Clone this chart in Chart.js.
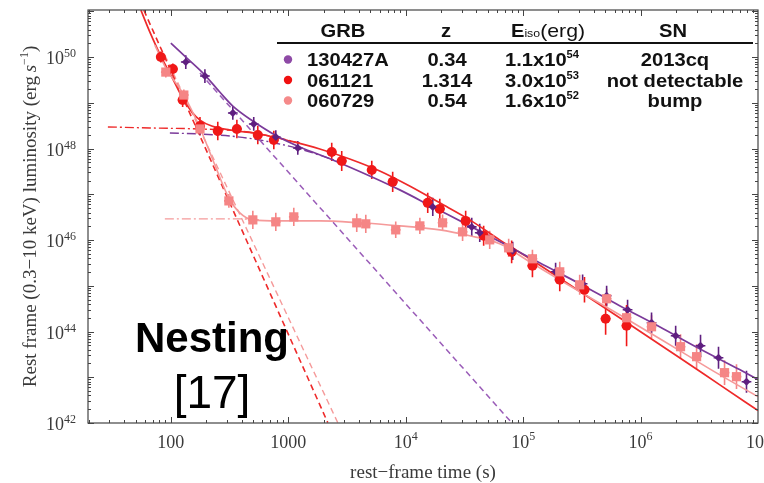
<!DOCTYPE html>
<html>
<head>
<meta charset="utf-8">
<title>GRB rest-frame X-ray light curves</title>
<script src="https://cdn.jsdelivr.net/npm/chart.js@4.4.1/dist/chart.umd.min.js"></script>
<style>
  html, body { margin: 0; padding: 0; background: #fff; overflow: hidden; }
  canvas { display: block; }
</style>
</head>
<body>
<canvas id="lc" width="800" height="483"></canvas>
<script>
// observed points, [rest-frame time (s), luminosity (erg/s)], error in dex
const pts130427A = [
  [134, 7.8e49], [195, 3.85e49], [337, 6.0e48], [508, 3.45e48], [783, 1.79e48],
  [1205, 1.03e48], [1.7e4, 5.3e46], [3.65e4, 1.94e46], [4.27e4, 1.44e46], [8.15e4, 5.8e45],
  [1.89e5, 2.02e45], [3.21e5, 1.11e45], [5.14e5, 6.05e44], [7.75e5, 2.99e44], [1.24e6, 1.56e44],
  [1.99e6, 8.1e43], [3.24e6, 4.9e43], [4.61e6, 2.68e43], [7.98e6, 8.0e42]
];
const err130427A = [0.15, 0.15, 0.15, 0.15, 0.15, 0.15, 0.2, 0.2, 0.2, 0.2,
  0.2, 0.2, 0.22, 0.22, 0.22, 0.22, 0.24, 0.24, 0.24];

const pts061121 = [
  [82.2, 1.0e50], [104, 5.47e49], [126, 1.15e49], [177, 3.11e48], [251, 2.42e48],
  [365, 2.68e48], [550, 1.98e48], [753, 1.54e48], [2344, 8.43e47], [2851, 5.36e47],
  [5140, 3.41e47], [7745, 1.87e47], [1.54e4, 6.5e46], [1.95e4, 4.8e46], [3.24e4, 2.62e46],
  [4.61e4, 1.24e46], [7.98e4, 5.5e45], [1.2e5, 2.73e45], [2.05e5, 1.35e45], [3.33e5, 8.2e44],
  [5.04e5, 1.9e44], [7.6e5, 1.34e44]
];
const err061121 = [0.12, 0.12, 0.15, 0.2, 0.2, 0.2, 0.2, 0.2, 0.2, 0.22,
  0.2, 0.22, 0.22, 0.22, 0.22, 0.22, 0.25, 0.25, 0.25, 0.28, 0.35, 0.45];

const pts060729 = [
  [90.6, 4.7e49], [129, 1.48e49], [177, 2.68e48], [312, 7.18e46], [499, 2.76e46],
  [783, 2.5e46], [1114, 3.21e46], [3828, 2.38e46], [4571, 2.26e46], [8222, 1.67e46],
  [1.32e4, 2.04e46], [2.06e4, 2.38e46], [3.05e4, 1.51e46], [5.19e4, 1.01e46], [7.53e4, 6.76e45],
  [1.2e5, 3.89e45], [2.05e5, 2.02e45], [3.03e5, 1.05e45], [5.14e5, 5.2e44], [7.6e5, 2.0e44],
  [1.24e6, 1.27e44], [2.19e6, 4.66e43], [3.0e6, 2.82e43], [5.19e6, 1.26e43], [6.56e6, 1.03e43]
];
const err060729 = [0.12, 0.12, 0.15, 0.15, 0.2, 0.2, 0.2, 0.2, 0.2, 0.18,
  0.18, 0.18, 0.2, 0.2, 0.2, 0.2, 0.22, 0.22, 0.22, 0.25, 0.25, 0.27, 0.27, 0.27, 0.27];

// fitted models
const fit061121 = [
  [55.6, 1.06e51], [66.3, 3.52e50], [82.2, 1.05e50], [102, 3.66e49], [126, 1.27e49],
  [151, 6.3e48], [177, 4.2e48], [223, 3.11e48], [318, 2.55e48], [571, 2.08e48],
  [1030, 1.47e48], [1855, 9.8e47], [3335, 5.93e47], [6012, 3.24e47], [1.08e4, 1.52e47],
  [1.95e4, 6.5e46], [3.51e4, 2.76e46], [6.31e4, 1.01e46], [1.14e5, 3.89e45], [2.49e5, 1.05e45],
  [6.63e5, 2.0e44], [2.15e6, 2.68e43], [4.7e6, 6.9e42], [1e7, 1.87e42]
];
const fit130427A = [
  [100, 2.02e50], [137, 9.5e49], [195, 4.05e49], [261, 1.72e49], [337, 8.5e48],
  [499, 4.0e48], [798, 1.88e48], [1253, 1.08e48], [2393, 5.64e47], [4943, 2.52e47],
  [8892, 1.25e47], [1.7e4, 5.3e46], [3.51e4, 2.04e46], [7.67e4, 7.1e45], [1.38e5, 3.18e45],
  [3.03e5, 1.11e45], [6.63e5, 3.66e44], [1.45e6, 1.27e44], [3.18e6, 4.21e43], [6.97e6, 1.47e43],
  [1e7, 8.9e42]
];
const fit060729 = [
  [73.1, 1.83e50], [90.6, 5.75e49], [129, 1.48e49], [177, 2.82e48], [237, 4.39e47],
  [312, 8.3e46], [387, 3.93e46], [499, 2.76e46], [847, 2.62e46], [1855, 2.62e46],
  [4060, 2.38e46], [8892, 2.04e46], [1.95e4, 1.67e46], [3.51e4, 1.24e46], [6.31e4, 8.3e45],
  [1.14e5, 3.34e45], [2.49e5, 1.0e45], [6.63e5, 2.33e44], [2.15e6, 3.81e43], [4.7e6, 1.14e43],
  [1e7, 3.77e42]
];
const steep061121 = [[58.9, 1.06e51], [2168, 1.02e42]];
const steep060729 = [[88.9, 1.1e50], [2636, 1.02e42]];
const steep130427A = [[177, 4.48e49], [7.98e4, 1.02e42]];
const plateau061121 = [[29.1, 2.97e48], [66.3, 2.82e48], [177, 2.68e48], [387, 2.42e48], [696, 1.88e48], [1253, 1.32e48]];
const plateau130427A = [[98.1, 2.19e48], [177, 2.08e48], [318, 1.88e48], [571, 1.54e48], [1253, 9.8e47], [2742, 5.1e47]];
const plateau060729 = [[88.9, 2.9e46], [177, 2.9e46], [387, 2.9e46], [593, 2.76e46]];

// table in the upper right
const grbNames = ["130427A", "061121", "060729"];
const redshifts = ["0.34", "1.314", "0.54"];
const eisoMantissa = ["1.1x10", "3.0x10", "1.6x10"];
const eisoExponent = ["54", "53", "52"];
const snNotes = ["2013cq", "not detectable", "bump"];

const xTickValues = [1e2, 1e3, 1e4, 1e5, 1e6, 1e7];
const xTickBase = ["100", "1000", "10", "10", "10", "10"];
const xTickSup = ["", "", "4", "5", "6", "7"];
const yTickValues = [1e42, 1e44, 1e46, 1e48, 1e50];
const yTickSup = ["42", "44", "46", "48", "50"];

const PURPLE = "#5f1f80";
const PURPLE_LINE = "#7b3a9a";
const PURPLE_DASH = "#9a5cb8";
const RED = "#f01818";
const RED_LINE = "#ee2a2a";
const PINK = "#f58585";
const PINK_LINE = "#f59a9a";
const LEGEND_DOT = ["#8e4aa6", "#f01010", "#f58a8a"];

const SERIF = "'Liberation Serif', 'DejaVu Serif', serif";
const SANS = "'Liberation Sans', Arial, sans-serif";

function xy(list) {
  return list.map((p) => ({ x: p[0], y: p[1] }));
}

function curve(data, color, dash, width, order) {
  return {
    data: xy(data),
    showLine: true,
    borderColor: color,
    borderWidth: width,
    borderDash: dash,
    pointRadius: 0,
    fill: false,
    cubicInterpolationMode: "monotone",
    order: order,
  };
}

function points(data, errs, color, style, radius) {
  return {
    data: xy(data),
    errDex: errs,
    showLine: false,
    pointStyle: style,
    pointRadius: radius,
    backgroundColor: color,
    borderColor: color,
    borderWidth: 0,
    order: 1,
  };
}

function drawRich(ctx, segs, x, y, align, sx) {
  let w = 0;
  segs.forEach((s) => {
    ctx.font = s.font;
    s.w = ctx.measureText(s.t).width;
    w += s.w;
  });
  ctx.save();
  ctx.translate(x, y);
  ctx.scale(sx || 1, 1);
  let cx = align === "center" ? -w / 2 : align === "right" ? -w : 0;
  ctx.textAlign = "left";
  ctx.textBaseline = "alphabetic";
  segs.forEach((s) => {
    ctx.font = s.font;
    ctx.fillText(s.t, cx, s.dy || 0);
    cx += s.w;
  });
  ctx.restore();
}

const errorBars = {
  id: "errorBars",
  beforeDatasetsDraw(chart) {
    const ctx = chart.ctx;
    const xs = chart.scales.x;
    const ys = chart.scales.y;
    ctx.save();
    chart.data.datasets.forEach((ds) => {
      if (!ds.errDex) return;
      ctx.strokeStyle = ds.borderColor;
      ctx.lineWidth = 1.6;
      ds.data.forEach((p, i) => {
        const e = Math.pow(10, ds.errDex[i]);
        const px = xs.getPixelForValue(p.x);
        const top = ys.getPixelForValue(p.y * e);
        const bot = ys.getPixelForValue(p.y / e);
        const left = xs.getPixelForValue(p.x / 1.1);
        const right = xs.getPixelForValue(p.x * 1.1);
        const py = ys.getPixelForValue(p.y);
        ctx.beginPath();
        ctx.moveTo(px, top);
        ctx.lineTo(px, bot);
        ctx.moveTo(left, py);
        ctx.lineTo(right, py);
        ctx.stroke();
      });
    });
    ctx.restore();
  },
};

const frameAndText = {
  id: "frameAndText",
  afterDraw(chart) {
    const ctx = chart.ctx;
    const a = chart.chartArea;
    const xs = chart.scales.x;
    const ys = chart.scales.y;
    ctx.save();

    // frame
    ctx.strokeStyle = "#444";
    ctx.lineWidth = 1.2;
    ctx.strokeRect(a.left, a.top, a.right - a.left, a.bottom - a.top);

    // log ticks on all four sides
    ctx.lineWidth = 1;
    ctx.beginPath();
    for (let d = 1; d <= 6; d++) {
      for (let m = 1; m <= 9; m++) {
        const v = m * Math.pow(10, d);
        if (v < xs.min || v > xs.max) continue;
        const px = Math.round(xs.getPixelForValue(v)) + 0.5;
        const len = m === 1 ? 6 : 3;
        ctx.moveTo(px, a.bottom);
        ctx.lineTo(px, a.bottom - len);
        ctx.moveTo(px, a.top);
        ctx.lineTo(px, a.top + len);
      }
    }
    for (let d = 42; d <= 51; d++) {
      for (let m = 1; m <= 9; m++) {
        const v = m * Math.pow(10, d);
        if (v < ys.min || v > ys.max) continue;
        const py = Math.round(ys.getPixelForValue(v)) + 0.5;
        const len = m === 1 ? 6 : 3;
        ctx.moveTo(a.left, py);
        ctx.lineTo(a.left + len, py);
        ctx.moveTo(a.right, py);
        ctx.lineTo(a.right - len, py);
      }
    }
    ctx.stroke();

    // tick labels
    ctx.fillStyle = "#3a3a3a";
    xTickValues.forEach((v, i) => {
      const px = xs.getPixelForValue(v);
      const segs = [{ t: xTickBase[i], font: "18px " + SERIF }];
      if (xTickSup[i]) segs.push({ t: xTickSup[i], font: "12px " + SERIF, dy: -8 });
      drawRich(ctx, segs, px, 448, "center");
    });
    yTickValues.forEach((v, i) => {
      const py = ys.getPixelForValue(v);
      drawRich(ctx, [
        { t: "10", font: "18px " + SERIF },
        { t: yTickSup[i], font: "12px " + SERIF, dy: -7 },
      ], 76, py + 7, "right");
    });

    // axis titles
    drawRich(ctx, [{ t: "rest\u2212frame time (s)", font: "19px " + SERIF }], 423, 478, "center");
    ctx.save();
    ctx.translate(36, (a.top + a.bottom) / 2);
    ctx.rotate(-Math.PI / 2);
    drawRich(ctx, [
      { t: "Rest frame (0.3\u221210 keV) luminosity (erg\u2009", font: "19px " + SERIF },
      { t: "s", font: "italic 19px " + SERIF },
      { t: "\u22121", font: "12px " + SERIF, dy: -8 },
      { t: ")", font: "19px " + SERIF },
    ], 0, 0, "center");
    ctx.restore();

    // table legend
    ctx.fillStyle = "#111";
    const sx = 1.12;
    const bold = "bold 18px " + SANS;
    drawRich(ctx, [{ t: "GRB", font: bold }], 343, 37, "center", sx);
    drawRich(ctx, [{ t: "z", font: bold }], 446, 37, "center", sx);
    drawRich(ctx, [
      { t: "E", font: bold },
      { t: "iso", font: "11px " + SANS },
      { t: "(erg)", font: "19px " + SANS },
    ], 548, 37, "center", sx);
    drawRich(ctx, [{ t: "SN", font: bold }], 673, 37, "center", sx);
    ctx.strokeStyle = "#111";
    ctx.lineWidth = 2;
    ctx.beginPath();
    ctx.moveTo(277, 43);
    ctx.lineTo(753, 43);
    ctx.stroke();

    grbNames.forEach((name, i) => {
      const base = 66 + i * 20.5;
      ctx.fillStyle = LEGEND_DOT[i];
      ctx.beginPath();
      ctx.arc(288, base - 6.5, 4.2, 0, Math.PI * 2);
      ctx.fill();
      ctx.fillStyle = "#111";
      drawRich(ctx, [{ t: name, font: bold }], 307, base, "left", sx);
      drawRich(ctx, [{ t: redshifts[i], font: bold }], 447, base, "center", sx);
      drawRich(ctx, [
        { t: eisoMantissa[i], font: bold },
        { t: eisoExponent[i], font: "bold 10px " + SANS, dy: -8 },
      ], 542, base, "center", sx);
      drawRich(ctx, [{ t: snNotes[i], font: bold }], 675, base, "center", sx);
    });

    // annotation
    ctx.fillStyle = "#000";
    drawRich(ctx, [{ t: "Nesting", font: "bold 42px " + SANS }], 212, 352, "center");
    drawRich(ctx, [{ t: "[17]", font: "46px " + SANS }], 212, 408, "center");

    ctx.restore();
  },
};

new Chart(document.getElementById("lc"), {
  type: "scatter",
  data: {
    datasets: [
      curve(steep061121, RED_LINE, [6, 4], 1.6, 3),
      curve(steep060729, PINK_LINE, [6, 4], 1.4, 3),
      curve(steep130427A, PURPLE_DASH, [6, 4], 1.5, 3),
      curve(plateau061121, RED_LINE, [9, 3, 2, 3], 1.4, 3),
      curve(plateau130427A, PURPLE_LINE, [9, 3, 2, 3], 1.4, 3),
      curve(plateau060729, PINK_LINE, [9, 3, 2, 3], 1.4, 3),
      curve(fit060729, PINK_LINE, [], 1.6, 2),
      curve(fit130427A, PURPLE_LINE, [], 1.7, 2),
      curve(fit061121, RED_LINE, [], 1.7, 2),
      points(pts060729, err060729, PINK, "rect", 6.5),
      points(pts130427A, err130427A, PURPLE, "rectRot", 4),
      points(pts061121, err061121, RED, "circle", 5),
    ],
  },
  options: {
    responsive: false,
    animation: false,
    layout: { padding: { left: 88, top: 10, right: 42, bottom: 60 } },
    scales: {
      x: { type: "logarithmic", min: 19.7, max: 1e7, display: false },
      y: { type: "logarithmic", min: 1e42, max: 1.07e51, display: false },
    },
    plugins: {
      legend: { display: false },
      tooltip: { enabled: false },
    },
  },
  plugins: [errorBars, frameAndText],
});
</script>
</body>
</html>
